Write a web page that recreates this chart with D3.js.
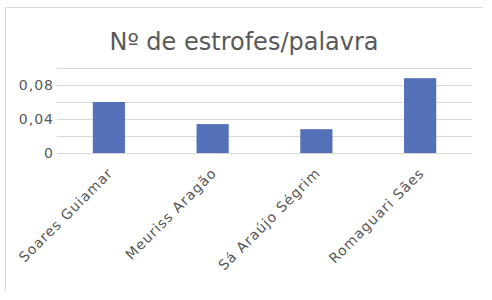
<!DOCTYPE html>
<html>
<head>
<meta charset="utf-8">
<script src="https://cdn.jsdelivr.net/npm/d3@7"></script>
<style>
  body { margin: 0; background: #fff; }
  text { font-family: "DejaVu Sans", sans-serif; fill: #595959; }
</style>
</head>
<body>
<div id="viz"></div>
<script>
const authors = ["Soares Guiamar", "Meuriss Aragão", "Sá Araújo Ségrim", "Romaguari Sães"];
const values = [0.06, 0.034, 0.028, 0.088];
const tickValues = [0, 0.04, 0.08];
const gridValues = [0, 0.02, 0.04, 0.06, 0.08, 0.1];

function draw() {

  // dimensions
  const dms = {
    width: 492,
    height: 300,
    margins: { top: 68, bottom: 147, left: 57, right: 20 }
  };
  dms.innerWidth = dms.width - dms.margins.left - dms.margins.right;
  dms.innerHeight = dms.height - dms.margins.top - dms.margins.bottom;

  const svg = d3.select("#viz")
    .append("svg")
      .attr("width", dms.width)
      .attr("height", dms.height);

  // frame (only top and left edges visible)
  svg.append("path")
    .attr("d", "M5.5,291 V7.5 H483")
    .attr("fill", "none")
    .attr("stroke", "#d9d9d9");

  svg.append("text")
    .attr("x", 244)
    .attr("y", 50)
    .attr("text-anchor", "middle")
    .style("font-size", "24px")
    .text("Nº de estrofes/palavra");

  const g = svg.append("g")
    .attr("transform", `translate(${dms.margins.left},${dms.margins.top})`);

  // scales
  const x = d3.scaleBand()
    .domain(authors)
    .range([0, dms.innerWidth])
    .paddingInner(0.69)
    .paddingOuter(0.345);

  const y = d3.scaleLinear()
    .domain([0, 0.1])
    .range([dms.innerHeight, 0]);

  // gridlines
  g.selectAll("line.grid")
    .data(gridValues)
    .join("line")
      .attr("class", "grid")
      .attr("x1", 0)
      .attr("x2", dms.innerWidth)
      .attr("y1", d => Math.round(y(d)) + 0.5)
      .attr("y2", d => Math.round(y(d)) + 0.5)
      .attr("stroke", "#d9d9d9");

  // bars
  g.selectAll("rect")
    .data(values)
    .join("rect")
      .attr("x", (d, i) => x(authors[i]))
      .attr("width", x.bandwidth())
      .attr("y", d => y(d))
      .attr("height", d => y(0) - y(d))
      .attr("fill", "#5470b9");

  // y axis
  const fmt = d => d3.format(d === 0 ? "d" : ".2f")(d).replace(".", ",");
  const yAxis = g.append("g")
    .call(d3.axisLeft(y).tickValues(tickValues).tickSize(0).tickPadding(3).tickFormat(fmt));
  yAxis.select(".domain").remove();
  yAxis.selectAll("text")
    .style("font-size", "14px")
    .style("letter-spacing", "1px")
    .style("font-family", "DejaVu Sans, sans-serif")
    .attr("fill", "#595959");

  // x axis
  const xAxis = g.append("g")
    .attr("transform", `translate(0,${dms.innerHeight})`)
    .call(d3.axisBottom(x).tickSize(0).tickPadding(0));
  xAxis.select(".domain").remove();
  xAxis.selectAll("text")
    .style("font-size", "14px")
    .style("letter-spacing", "1px")
    .style("font-family", "DejaVu Sans, sans-serif")
    .attr("fill", "#595959")
    .attr("text-anchor", "end")
    .attr("dy", "0")
    .attr("transform", "translate(5,21) rotate(-45)");
}

draw();
</script>
</body>
</html>
